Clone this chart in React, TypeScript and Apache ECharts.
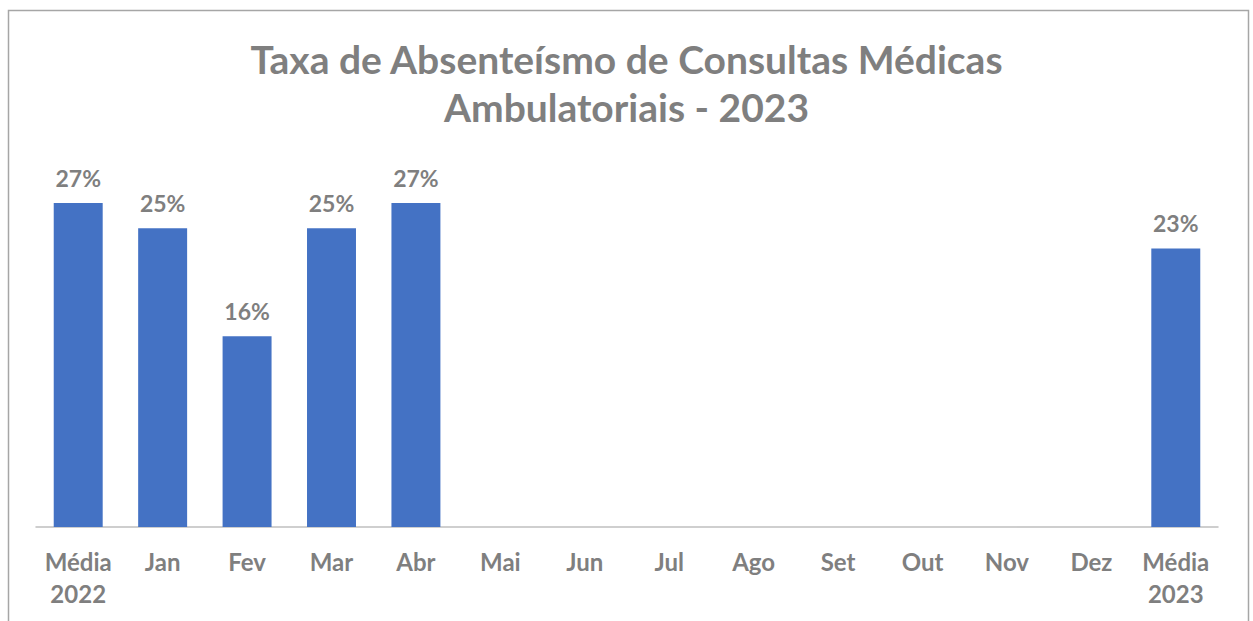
import React, { useEffect, useRef } from "react";
import * as echarts from "echarts";

const categories = ["Média\n2022", "Jan", "Fev", "Mar", "Abr", "Mai", "Jun", "Jul", "Ago", "Set", "Out", "Nov", "Dez", "Média\n2023"];
const values: (number | null)[] = [0.27, 0.249, 0.159, 0.249, 0.27, null, null, null, null, null, null, null, null, 0.232];
const titleText = "Taxa de Absenteísmo de Consultas Médicas\nAmbulatoriais - 2023";

const FONT = "Lato, 'Noto Sans', sans-serif";
const GRAY = "#7f7f7f";

export default function App() {
  const ref = useRef<HTMLDivElement>(null);
  useEffect(() => {
    const chart = echarts.init(ref.current!, null, { renderer: "svg" });
    chart.setOption({
      animation: false,
      backgroundColor: "#ffffff",
      title: {
        text: titleText,
        left: "center",
        top: 30,
        textStyle: { fontFamily: FONT, fontSize: 39, fontWeight: "bold", color: GRAY, lineHeight: 48 },
      },
      graphic: [
        {
          type: "rect",
          shape: { x: 8.5, y: 10.5, width: 1240, height: 640 },
          style: { fill: "none", stroke: "#a6a6a6", lineWidth: 1.5 },
          silent: true,
        },
      ],
      grid: { left: 36, right: 35, top: 47, height: 480, containLabel: false },
      xAxis: {
        type: "category",
        data: categories,
        axisLine: { lineStyle: { color: "#bfbfbf", width: 1.5 } },
        axisTick: { show: false },
        axisLabel: {
          fontFamily: FONT,
          fontSize: 24,
          fontWeight: "bold",
          color: GRAY,
          lineHeight: 32,
          margin: 18,
          interval: 0,
        },
      },
      yAxis: {
        type: "value",
        min: 0,
        max: 0.4,
        show: false,
        splitLine: { show: false },
      },
      series: [
        {
          type: "bar",
          data: values,
          barCategoryGap: "42%",
          itemStyle: { color: "#4472c4" },
          label: {
            show: true,
            position: "top",
            distance: 14,
            fontFamily: FONT,
            fontSize: 23,
            fontWeight: "bold",
            color: GRAY,
            formatter: (p: any) => (p.value == null ? "" : Math.round(p.value * 100) + "%"),
          },
        },
      ],
    });
    return () => chart.dispose();
  }, []);
  return <div ref={ref} style={{ position: "fixed", left: 0, top: 0, width: 1253, height: 621 }} />;
}
